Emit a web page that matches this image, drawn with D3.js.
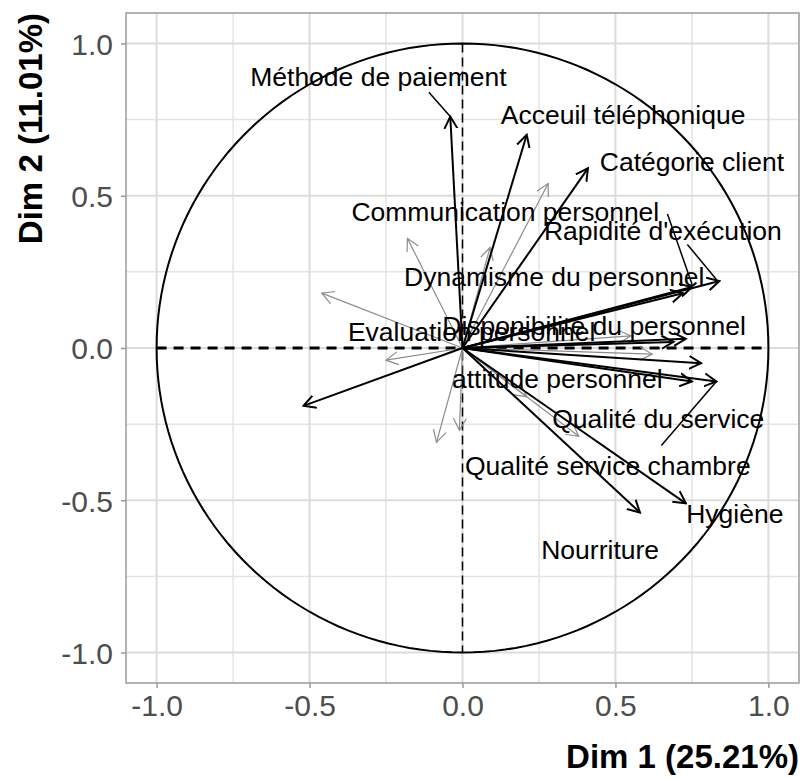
<!DOCTYPE html>
<html>
<head>
<meta charset="utf-8">
<script src="https://cdn.jsdelivr.net/npm/d3@7"></script>
<style>
  body { margin: 0; background: #fff; }
  text { font-family: "Liberation Sans", Arial, sans-serif; }
</style>
</head>
<body>
<div id="chart"></div>
<script>
// variables on the first two dimensions (black = labelled active variables)
const activeNames = ["Méthode de paiement", "Acceuil téléphonique", "Catégorie client",
    "Rapidité d'exécution", "Communication personnel", "Dynamisme du personnel",
    "Disponibilité du personnel", "Evaluation personnel", "attitude personnel",
    "Qualité du service", "Qualité service chambre", "Hygiène", "Nourriture", "Autre"];
const activeDim1 = [-0.04, 0.21, 0.41, 0.84, 0.75, 0.72, 0.73, -0.52, 0.75, 0.83, 0.78, 0.73, 0.58, 0.69];
const activeDim2 = [0.76, 0.70, 0.59, 0.22, 0.20, 0.18, 0.03, -0.19, -0.11, -0.11, -0.05, -0.51, -0.54, 0.02];

// other variables (grey, unlabelled)
const otherDim1 = [-0.18, -0.46, -0.25, -0.085, -0.01, 0.28, 0.09, 0.38, 0.62, 0.55, 0.21];
const otherDim2 = [0.36, 0.18, -0.04, -0.31, -0.27, 0.54, 0.33, -0.29, -0.02, 0.04, -0.16];

// repelled label positions (data units)
const labelNames = ["Méthode de paiement", "Acceuil téléphonique", "Catégorie client",
    "Communication personnel", "Rapidité d'exécution", "Dynamisme du personnel",
    "Disponibilité du personnel", "Evaluation personnel", "attitude personnel",
    "Qualité du service", "Qualité service chambre", "Hygiène", "Nourriture"];
const labelX = [-0.275, 0.525, 0.75, 0.14, 0.655, 0.30, 0.43, 0.03, 0.31, 0.64, 0.475, 0.89, 0.45];
const labelY = [0.89, 0.765, 0.61, 0.447, 0.384, 0.232, 0.072, 0.052, -0.103, -0.233, -0.388, -0.545, -0.662];
// leader segments: [from x, from y, to x, to y]
const segments = [[-0.11, 0.84, -0.04, 0.76], [0.67, 0.44, 0.75, 0.21],
    [0.735, 0.34, 0.83, 0.225], [0.65, -0.32, 0.83, -0.11]];

const xTicks = [-1.0, -0.5, 0.0, 0.5, 1.0];
const minorTicks = [-0.75, -0.25, 0.25, 0.75];
const xTitle = "Dim 1 (25.21%)";
const yTitle = "Dim 2 (11.01%)";

const width = 801, height = 778;
const margin = {top: 13, right: 2, bottom: 95, left: 126};

const svg = d3.select("#chart").append("svg")
    .attr("width", width).attr("height", height);

const x = d3.scaleLinear().domain([-1.1, 1.1]).range([margin.left, width - margin.right]);
const y = d3.scaleLinear().domain([-1.1, 1.1]).range([height - margin.bottom, margin.top]);

// grid
const grid = svg.append("g");
grid.selectAll(".minorX").data(minorTicks).join("line")
    .attr("x1", d => x(d)).attr("x2", d => x(d))
    .attr("y1", y(-1.1)).attr("y2", y(1.1))
    .style("stroke", "#e4e4e4").style("stroke-width", "1.5px");
grid.selectAll(".minorY").data(minorTicks).join("line")
    .attr("y1", d => y(d)).attr("y2", d => y(d))
    .attr("x1", x(-1.1)).attr("x2", x(1.1))
    .style("stroke", "#e4e4e4").style("stroke-width", "1.5px");
grid.selectAll(".majorX").data(xTicks).join("line")
    .attr("x1", d => x(d)).attr("x2", d => x(d))
    .attr("y1", y(-1.1)).attr("y2", y(1.1))
    .style("stroke", "#dcdcdc").style("stroke-width", "2px");
grid.selectAll(".majorY").data(xTicks).join("line")
    .attr("y1", d => y(d)).attr("y2", d => y(d))
    .attr("x1", x(-1.1)).attr("x2", x(1.1))
    .style("stroke", "#dcdcdc").style("stroke-width", "2px");

// correlation circle
const circle = d3.range(0, 361, 2).map(a => [Math.cos(a * Math.PI / 180), Math.sin(a * Math.PI / 180)]);
svg.append("path")
    .attr("d", d3.line().x(d => x(d[0])).y(d => y(d[1]))(circle))
    .style("fill", "none").style("stroke", "#000").style("stroke-width", "2px");

// dashed axes
svg.append("line")
    .attr("x1", x(-1)).attr("x2", x(1)).attr("y1", y(0)).attr("y2", y(0))
    .style("stroke", "#000").style("stroke-width", "3px").style("stroke-dasharray", "10,7");
svg.append("line")
    .attr("x1", x(0)).attr("x2", x(0)).attr("y1", y(1)).attr("y2", y(-1))
    .style("stroke", "#000").style("stroke-width", "1.5px").style("stroke-dasharray", "9,5");

// arrow heads
const defs = svg.append("defs");
[["headBlack", "#000", 2], ["headGrey", "#8c8c8c", 1.2]].forEach(([id, col, w]) => {
    defs.append("marker")
        .attr("id", id)
        .attr("markerUnits", "userSpaceOnUse")
        .attr("viewBox", "-12 -8 14 16")
        .attr("refX", 0).attr("refY", 0)
        .attr("markerWidth", 14).attr("markerHeight", 16)
        .attr("orient", "auto")
        .append("path")
        .attr("d", "M-12,-6.5L0,0L-12,6.5")
        .style("fill", "none").style("stroke", col).style("stroke-width", w);
});

svg.selectAll(".otherArrow").data(otherDim1).join("line")
    .attr("x1", x(0)).attr("y1", y(0))
    .attr("x2", d => x(d)).attr("y2", (d, i) => y(otherDim2[i]))
    .attr("marker-end", "url(#headGrey)")
    .style("stroke", "#8c8c8c").style("stroke-width", "1.2px");

svg.selectAll(".activeArrow").data(activeDim1).join("line")
    .attr("x1", x(0)).attr("y1", y(0))
    .attr("x2", d => x(d)).attr("y2", (d, i) => y(activeDim2[i]))
    .attr("marker-end", "url(#headBlack)")
    .style("stroke", "#000").style("stroke-width", "2px");

svg.selectAll(".segment").data(segments).join("line")
    .attr("x1", d => x(d[0])).attr("y1", d => y(d[1]))
    .attr("x2", d => x(d[2])).attr("y2", d => y(d[3]))
    .style("stroke", "#000").style("stroke-width", "1.5px");

// variable labels
svg.selectAll(".varLabel").data(labelNames).join("text")
    .attr("x", (d, i) => x(labelX[i]))
    .attr("y", (d, i) => y(labelY[i]))
    .attr("text-anchor", "middle")
    .attr("dominant-baseline", "central")
    .attr("font-size", "26.5px")
    .attr("fill", "#000")
    .text(d => d);

// panel border
svg.append("rect")
    .attr("x", x(-1.1)).attr("y", y(1.1))
    .attr("width", x(1.1) - x(-1.1)).attr("height", y(-1.1) - y(1.1))
    .style("fill", "none").style("stroke", "#9a9a9a").style("stroke-width", "1.5px");

// axes (plain hyphen for negatives, like the R output)
const fmt = d => d3.format(".1f")(d).replace("\u2212", "-");
const xAxis = svg.append("g")
    .attr("transform", `translate(0,${y(-1.1)})`)
    .call(d3.axisBottom(x).tickValues(xTicks).tickFormat(fmt).tickSize(5).tickPadding(7));
const yAxis = svg.append("g")
    .attr("transform", `translate(${x(-1.1)},0)`)
    .call(d3.axisLeft(y).tickValues(xTicks).tickFormat(fmt).tickSize(5).tickPadding(8));
[xAxis, yAxis].forEach(a => {
    a.select(".domain").remove();
    a.selectAll(".tick line").style("stroke", "#9a9a9a").style("stroke-width", "1.5px");
    a.selectAll(".tick text")
        .attr("font-size", "30px")
        .attr("font-family", "'Liberation Sans', Arial, sans-serif")
        .attr("fill", "#4d4d4d");
});
yAxis.selectAll(".tick text").attr("dy", "0.36em");

// titles
svg.append("text")
    .attr("x", width - 2).attr("y", 768)
    .attr("text-anchor", "end")
    .attr("font-size", "33px").attr("font-weight", "bold")
    .text(xTitle);
svg.append("text")
    .attr("transform", `translate(42,${margin.top}) rotate(-90)`)
    .attr("text-anchor", "end")
    .attr("font-size", "33px").attr("font-weight", "bold")
    .text(yTitle);
</script>
</body>
</html>
